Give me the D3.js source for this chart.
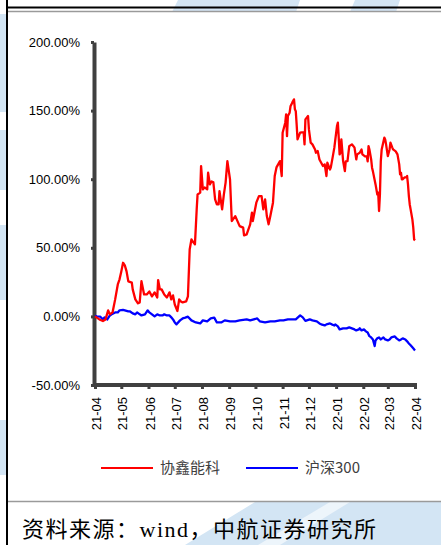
<!DOCTYPE html>
<html><head><meta charset="utf-8">
<script src="https://cdn.jsdelivr.net/npm/d3@7"></script>
<style>body{margin:0;background:#fff}svg{display:block}</style>
</head><body>
<svg id="c" width="441" height="545"></svg>
<script>
const seriesNames = ["协鑫能科", "沪深300"];
const seriesColors = ["#ff0000", "#0000ff"];
const yTicks = [-50, 0, 50, 100, 150, 200];
const xTickMonths = ["2021-04","2021-05","2021-06","2021-07","2021-08","2021-09","2021-10","2021-11","2021-12","2022-01","2022-02","2022-03","2022-04"];
const sourceText = "资料来源：wind，中航证券研究所";

// 协鑫能科 cumulative return (%)
const redSeries = [
["2021-04-01",0],["2021-04-06",-2.2],["2021-04-10",-3.4],["2021-04-13",-2.2],["2021-04-16",4.4],["2021-04-18",1.5],
["2021-04-21",2.9],["2021-04-24",12.4],["2021-04-27",23.3],["2021-04-29",27],["2021-05-01",32.8],["2021-05-03",39.1],
["2021-05-05",37.2],["2021-05-07",32.8],["2021-05-09",25.5],["2021-05-13",24.6],["2021-05-14",19.7],["2021-05-17",12.4],
["2021-05-20",9.5],["2021-05-22",10.2],["2021-05-24",25.7],["2021-05-27",16],["2021-05-30",16],["2021-06-02",18.2],
["2021-06-05",14.6],["2021-06-08",17.5],["2021-06-11",13.8],["2021-06-12",26.5],["2021-06-14",19.7],["2021-06-16",19.7],
["2021-06-19",16],["2021-06-22",13.8],["2021-06-25",17.5],["2021-06-27",12.4],["2021-06-29",15.3],["2021-07-01",8.7],
["2021-07-04",3.9],["2021-07-06",12.4],["2021-07-08",10.9],["2021-07-10",10.2],["2021-07-14",10.9],["2021-07-16",14.6],
["2021-07-18",48.8],["2021-07-20",56.1],["2021-07-22",54.2],["2021-07-24",52.5],["2021-07-26",78],["2021-07-27",88.9],
["2021-07-30",90.2],["2021-07-31",109.6],["2021-08-02",92.6],["2021-08-04",94],["2021-08-07",92.6],["2021-08-08",104.7],
["2021-08-10",96.2],["2021-08-12",98.4],["2021-08-14",97.7],["2021-08-16",85.3],["2021-08-18",81.6],["2021-08-20",81.6],
["2021-08-21",91.3],["2021-08-24",78],["2021-08-26",88.9],["2021-08-28",97.7],["2021-08-30",113.2],["2021-09-02",99.9],
["2021-09-04",69.5],["2021-09-08",73.1],["2021-09-13",65.8],["2021-09-17",64.7],["2021-09-18",59],["2021-09-21",59.8],
["2021-09-25",67.1],["2021-09-27",75.6],["2021-09-28",69.5],["2021-10-02",82.9],["2021-10-05",87.7],["2021-10-08",87.7],
["2021-10-10",78],["2021-10-12",85.3],["2021-10-14",73.1],["2021-10-16",67.1],["2021-10-18",73.1],["2021-10-21",82.9],
["2021-10-23",102.3],["2021-10-25",108.6],["2021-10-29",113.2],["2021-10-31",102.3],["2021-11-01",133.9],["2021-11-04",141.2],
["2021-11-05",147.2],["2021-11-06",131.4],["2021-11-07",146],["2021-11-09",148.5],["2021-11-10",153.1],["2021-11-12",155.8],
["2021-11-14",158.2],["2021-11-15",150.9],["2021-11-16",149.6],["2021-11-17",140],["2021-11-18",129],["2021-11-21",133.9],
["2021-11-23",134.1],["2021-11-25",134.1],["2021-11-26",125.4],["2021-11-27",143.6],["2021-11-30",146],["2021-12-01",136.3],
["2021-12-03",126.6],["2021-12-05",125.4],["2021-12-08",121.7],["2021-12-09",119.3],["2021-12-11",120.5],["2021-12-13",114.4],
["2021-12-15",112],["2021-12-17",109.6],["2021-12-19",110.8],["2021-12-21",102.3],["2021-12-22",112],["2021-12-25",107.1],
["2021-12-26",108.6],["2021-12-28",115.7],["2021-12-30",123],["2022-01-02",138.7],["2022-01-03",141.2],["2022-01-04",130.3],
["2022-01-05",118.1],["2022-01-06",119.3],["2022-01-07",129],["2022-01-09",113.2],["2022-01-11",105.9],["2022-01-12",113],
["2022-01-14",113.2],["2022-01-16",124.1],["2022-01-19",125.4],["2022-01-21",123.9],["2022-01-22",123],["2022-01-24",114.4],
["2022-01-25",118.1],["2022-01-28",119.3],["2022-01-30",121.7],["2022-01-31",118.1],["2022-02-03",116.6],["2022-02-05",116.6],
["2022-02-06",113],["2022-02-07",124.1],["2022-02-08",121.7],["2022-02-10",114.4],["2022-02-11",108.4],["2022-02-12",105.7],
["2022-02-15",96.2],["2022-02-17",88.9],["2022-02-18",90.2],["2022-02-19",76.8],["2022-02-20",88.9],["2022-02-21",113.2],
["2022-02-22",121.7],["2022-02-25",130.3],["2022-02-26",129],["2022-02-27",125.4],["2022-03-01",116.8],["2022-03-03",121.7],
["2022-03-04",126.6],["2022-03-06",123.2],["2022-03-07",121.7],["2022-03-10",120.3],["2022-03-12",118.1],["2022-03-14",110.8],
["2022-03-15",103.5],["2022-03-16",104.7],["2022-03-17",99.9],["2022-03-18",99.9],["2022-03-20",101.3],["2022-03-22",101.3],
["2022-03-23",102.3],["2022-03-24",96.2],["2022-03-25",87.7],["2022-03-26",81.6],["2022-03-27",78],["2022-03-29",70.7],
["2022-03-30",64.9],["2022-03-31",56.1],["2022-04-01",55.4]
];

// 沪深300 cumulative return (%)
const blueSeries = [
["2021-04-01",0.5],["2021-04-03",0],["2021-04-07",-0.2],["2021-04-10",-2.2],["2021-04-12",-0.7],["2021-04-15",-2.2],
["2021-04-18",0.7],["2021-04-20",1.5],["2021-04-24",2.9],["2021-04-27",2.9],["2021-04-29",4.4],["2021-05-03",4.7],
["2021-05-05",4.4],["2021-05-09",3.6],["2021-05-11",3.6],["2021-05-14",2.2],["2021-05-17",1.5],["2021-05-19",2.9],
["2021-05-22",1.5],["2021-05-24",0.7],["2021-05-28",1.5],["2021-05-31",4.4],["2021-06-02",2.9],["2021-06-05",1.5],
["2021-06-08",0],["2021-06-11",1.5],["2021-06-14",0.7],["2021-06-17",0.7],["2021-06-19",1.5],["2021-06-22",0.7],
["2021-06-25",0.7],["2021-06-27",-0.7],["2021-06-29",-2.2],["2021-07-01",-4.4],["2021-07-03",-5.8],["2021-07-07",-2.9],
["2021-07-10",-1.5],["2021-07-13",-0.9],["2021-07-16",-0.2],["2021-07-20",-2.9],["2021-07-25",-4.4],["2021-07-30",-5.1],
["2021-08-02",-2.9],["2021-08-07",-3.6],["2021-08-11",-1.5],["2021-08-15",-0.9],["2021-08-18",-4.4],["2021-08-23",-4.4],
["2021-08-27",-2.9],["2021-09-02",-3.6],["2021-09-08",-3.6],["2021-09-13",-2.9],["2021-09-21",-2.2],["2021-09-25",-2.9],
["2021-10-03",-1.5],["2021-10-06",-3.6],["2021-10-12",-4.4],["2021-10-18",-3.6],
["2021-10-23",-3.6],["2021-10-29",-2.9],["2021-11-02",-2.9],["2021-11-07",-2.2],["2021-11-12",-2.2],["2021-11-16",-2.2],
["2021-11-21",0.7],["2021-11-24",-0.7],["2021-11-27",-3.3],["2021-12-02",-2.2],["2021-12-05",-2.9],["2021-12-10",-3.6],
["2021-12-13",-5.1],["2021-12-15",-5.8],["2021-12-19",-6.6],["2021-12-21",-5.8],["2021-12-25",-5.1],["2021-12-27",-5.8],
["2021-12-30",-6.6],["2021-12-31",-5.8],["2022-01-03",-7.3],["2022-01-05",-9.5],["2022-01-09",-8.7],["2022-01-13",-8.7],
["2022-01-16",-8],["2022-01-19",-8.7],["2022-01-22",-9.5],["2022-01-24",-10.2],["2022-01-27",-9.5],["2022-01-28",-8.7],
["2022-01-30",-10.2],["2022-02-02",-9.5],["2022-02-04",-10.9],["2022-02-06",-11.7],["2022-02-08",-14.4],["2022-02-10",-15.3],
["2022-02-12",-16.8],["2022-02-14",-21.6],["2022-02-15",-17.5],["2022-02-17",-16],["2022-02-19",-15.3],["2022-02-21",-16.8],
["2022-02-24",-15.3],["2022-02-26",-16.8],["2022-03-01",-17.5],["2022-03-03",-16.8],["2022-03-05",-15.3],["2022-03-09",-14.6],
["2022-03-11",-16],["2022-03-14",-17.5],["2022-03-16",-16.8],["2022-03-18",-16],["2022-03-21",-16.8],["2022-03-23",-18.2],
["2022-03-25",-19.7],["2022-03-27",-21.1],["2022-03-30",-23.3],["2022-04-01",-24.8]
];

const parse = d3.timeParse("%Y-%m-%d");
const svg = d3.select("#c");

// background watermark
const wm = svg.append("g").attr("fill", "#d3e5f4");
[
  [[178,0],[300,0],[296,12],[172,12]],
  [[355,0],[400,0],[396,12],[350,12]],
  [[0,14],[8,14],[8,112],[0,112]],
  [[0,130],[8,130],[8,190],[0,190]],
  [[0,225],[8,225],[8,300],[0,300]],
  [[0,420],[8,420],[8,475],[0,475]],
  [[255,502],[441,502],[441,545],[185,545]]
].forEach(p => wm.append("polygon").attr("points", p.map(q => q.join(",")).join(" ")));
svg.append("polygon").attr("fill", "#ffffff").attr("opacity", 0.6)
  .attr("points", "330,502 350,502 280,545 258,545");

// chart box
svg.append("rect").attr("x", 8).attr("y", 12).attr("width", 433).attr("height", 489).attr("fill", "#fff");
svg.append("line").attr("x1", 7).attr("x2", 441).attr("y1", 7.5).attr("y2", 7.5).attr("stroke", "#000").attr("stroke-width", 2);
svg.append("line").attr("x1", 8).attr("x2", 441).attr("y1", 11.5).attr("y2", 11.5).attr("stroke", "#9a9a9a").attr("stroke-width", 1.5);
svg.append("line").attr("x1", 8).attr("x2", 441).attr("y1", 501.5).attr("y2", 501.5).attr("stroke", "#9a9a9a").attr("stroke-width", 1.5);
svg.append("line").attr("x1", 7).attr("x2", 7).attr("y1", 0).attr("y2", 545).attr("stroke", "#000").attr("stroke-width", 2);

const x = d3.scaleTime().domain([parse("2021-04-01"), parse("2022-04-01")]).range([95, 415]);
const y = d3.scaleLinear().domain([-50, 200]).range([385, 42]);

// y axis
const ya = svg.append("g").attr("transform", "translate(94,0)")
  .call(d3.axisLeft(y).tickValues(yTicks).tickSize(3).tickSizeOuter(0).tickPadding(11)
    .tickFormat(d => d.toFixed(2) + "%"));
ya.select(".domain").attr("stroke", "#404040").attr("stroke-width", 4);
ya.selectAll(".tick line").attr("stroke", "#404040").attr("stroke-width", 3);
ya.selectAll(".tick text").attr("fill", "#000").attr("font-family", "Liberation Sans, Arial, sans-serif").attr("font-size", 13);

// x axis
const monthParse = d3.timeParse("%Y-%m");
const xa = svg.append("g").attr("transform", "translate(0,385)")
  .call(d3.axisBottom(x).tickValues(xTickMonths.map(monthParse)).tickSize(3).tickSizeOuter(0)
    .tickFormat(d3.timeFormat("%y-%m")));
xa.select(".domain").attr("stroke", "#404040").attr("stroke-width", 4)
  .attr("d", "M93,0H417");
xa.selectAll(".tick line").attr("stroke", "#404040").attr("stroke-width", 3).attr("y2", 4);
xa.selectAll(".tick text").attr("fill", "#000").attr("font-family", "Liberation Sans, Arial, sans-serif").attr("font-size", 13)
  .attr("text-anchor", "end").attr("y", 0).attr("dy", "0.35em")
  .attr("transform", "translate(1,12) rotate(-90)");

// lines
const line = d3.line().x(d => x(parse(d[0]))).y(d => y(d[1]));
[blueSeries, redSeries].forEach((s, i) => {
  svg.append("path").datum(s).attr("fill", "none")
    .attr("stroke", i === 0 ? seriesColors[1] : seriesColors[0])
    .attr("stroke-width", 2.3).attr("stroke-linejoin", "round").attr("d", line);
});

// legend
const lg = svg.append("g");
const legendPos = [[101, 160], [246, 305]];
seriesNames.forEach((n, i) => {
  lg.append("line").attr("x1", legendPos[i][0]).attr("x2", legendPos[i][0] + 52).attr("y1", 468).attr("y2", 468)
    .attr("stroke", seriesColors[i]).attr("stroke-width", 2);
  lg.append("text").attr("x", legendPos[i][1]).attr("y", 468).attr("dy", "0.35em")
    .attr("font-family", "Noto Sans CJK SC, sans-serif").attr("font-size", 15).attr("fill", "#404040").text(n);
});

// source
svg.append("text").attr("x", 22).attr("y", 537)
  .attr("font-family", "Liberation Serif, Noto Sans CJK SC, serif").attr("font-size", 22)
  .attr("letter-spacing", 1.5).attr("fill", "#000").text(sourceText);
</script>
</body></html>
